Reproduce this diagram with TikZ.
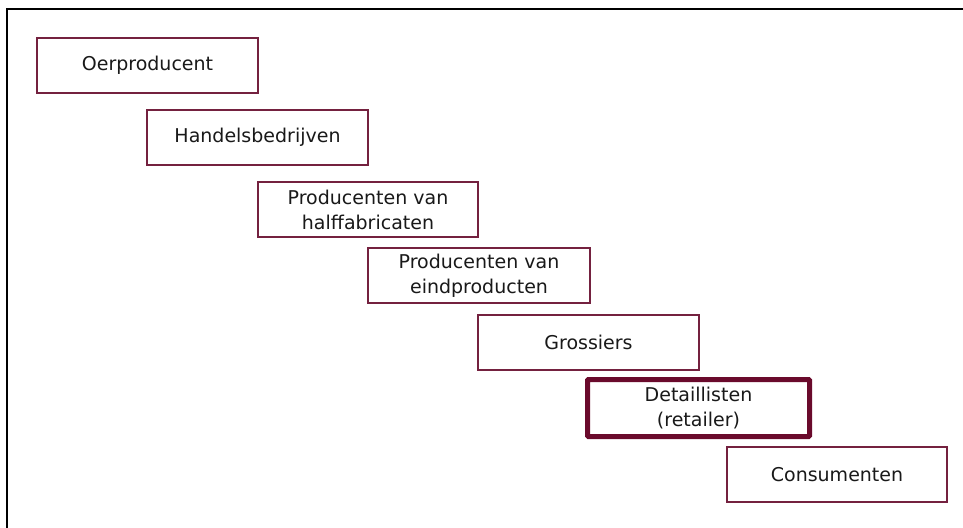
\documentclass[tikz,border=0pt]{standalone}
\usepackage{fontspec}
\setmainfont{DejaVu Sans}
\begin{document}
\begin{tikzpicture}[x=1pt,y=-1pt,
  chainbox/.style={draw=boxred, line width=2.3pt, fill=white, inner sep=0pt,
    align=center, font=\fontsize{19}{25}\selectfont, text=black!90},
  keybox/.style={chainbox, draw=keyred, line width=5pt, rounded corners=1pt}]
\definecolor{boxred}{HTML}{74213F}
\definecolor{keyred}{HTML}{6A0A2C}
\useasboundingbox (0,0) rectangle (963,527);
% frame: top and left rules only
\draw[line width=2.5pt, line cap=rect] (963,9) -- (7,9) -- (7,527);
% the chain, top-left to bottom-right
\node[chainbox, minimum width=221pt, minimum height=55pt] (oer) at (147.5,65.5) {Oerproducent};
\node[chainbox, minimum width=221pt, minimum height=55pt] (handel) at (257.5,137.5) {Handelsbedrijven};
\node[chainbox, minimum width=220pt, minimum height=55pt] (half) at (368,209.5) {Producenten van\\halffabricaten};
\node[chainbox, minimum width=222pt, minimum height=55pt] (eind) at (479,275.5) {Producenten van\\eindproducten};
\node[chainbox, minimum width=221pt, minimum height=55pt] (gros) at (588.5,342.5) {Grossiers};
\node[keybox, minimum width=222pt, minimum height=57pt] (detail) at (698.5,408) {Detaillisten\\(retailer)};
\node[chainbox, minimum width=220pt, minimum height=55pt] (cons) at (837,474.5) {Consumenten};
\end{tikzpicture}
\end{document}
